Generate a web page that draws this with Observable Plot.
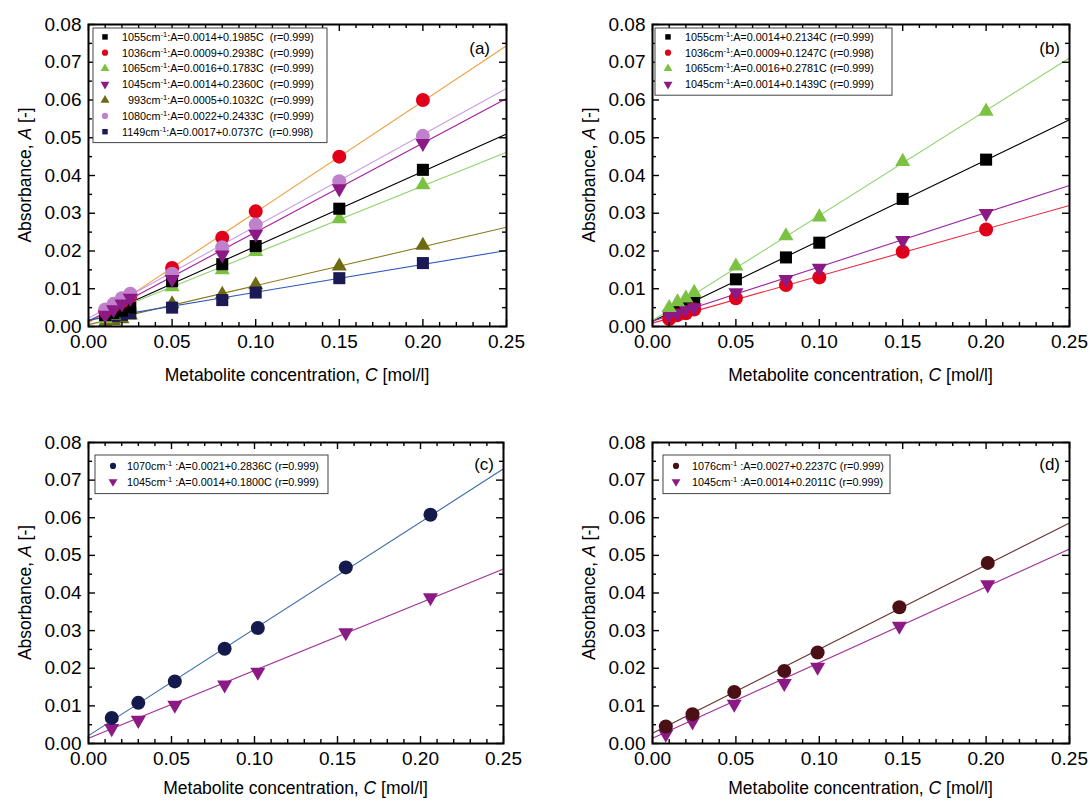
<!DOCTYPE html>
<html><head><meta charset="utf-8">
<script src="https://cdn.jsdelivr.net/npm/d3@7"></script>
<script src="https://cdn.jsdelivr.net/npm/@observablehq/plot@0.6"></script>
<style>
body{margin:0;background:#fff;font-family:"Liberation Sans",Arial,sans-serif;}
#wrap{position:relative;width:1090px;height:803px;overflow:hidden;}
.panel{position:absolute;}
</style></head><body><div id="wrap"></div>
<script>
// ---------------- DATA ----------------
const concAB = [0.01, 0.015, 0.02, 0.025, 0.05, 0.08, 0.10, 0.15, 0.20];
const concC  = [0.014, 0.030, 0.052, 0.082, 0.102, 0.155, 0.206];
const concD  = [0.008, 0.024, 0.049, 0.079, 0.099, 0.148, 0.201];

// panel (a)
const a_wn   = ["1055", "1036", "1065", "1045", "993", "1080", "1149"];
const a_b    = [0.0014, 0.0009, 0.0016, 0.0014, 0.0005, 0.0022, 0.0017];
const a_m    = [0.1985, 0.2938, 0.1783, 0.2360, 0.1032, 0.2433, 0.0737];
const a_r    = ["0.999", "0.999", "0.999", "0.999", "0.999", "0.999", "0.998"];
const a_1055 = [0.0030, 0.0036, 0.0042, 0.0050, 0.0120, 0.0165, 0.0213, 0.0312, 0.0415];
const a_1036 = [0.0040, 0.0055, 0.0066, 0.0080, 0.0155, 0.0235, 0.0305, 0.0450, 0.0600];
const a_1065 = [0.0020, 0.0030, 0.0045, 0.0052, 0.0105, 0.0150, 0.0198, 0.0285, 0.0375];
const a_1045 = [0.0030, 0.0045, 0.0060, 0.0075, 0.0125, 0.0190, 0.0245, 0.0365, 0.0485];
const a_993  = [0.0010, 0.0015, 0.0020, 0.0030, 0.0060, 0.0085, 0.0110, 0.0160, 0.0215];
const a_1080 = [0.0045, 0.0060, 0.0075, 0.0087, 0.0140, 0.0210, 0.0270, 0.0385, 0.0505];
const a_1149 = [0.0025, 0.0028, 0.0031, 0.0035, 0.0050, 0.0070, 0.0090, 0.0128, 0.0168];

// panel (b)
const b_wn   = ["1055", "1036", "1065", "1045"];
const b_b    = [0.0014, 0.0009, 0.0016, 0.0014];
const b_m    = [0.2134, 0.1247, 0.2781, 0.1439];
const b_r    = ["0.999", "0.998", "0.999", "0.999"];
const b_1055 = [0.0030, 0.0040, 0.0050, 0.0065, 0.0125, 0.0183, 0.0222, 0.0338, 0.0442];
const b_1036 = [0.0020, 0.0030, 0.0035, 0.0045, 0.0075, 0.0110, 0.0130, 0.0198, 0.0257];
const b_1065 = [0.0050, 0.0065, 0.0075, 0.0090, 0.0160, 0.0240, 0.0290, 0.0437, 0.0570];
const b_1045 = [0.0030, 0.0035, 0.0045, 0.0050, 0.0090, 0.0125, 0.0155, 0.0228, 0.0300];

// panel (c)
const c_wn   = ["1070", "1045"];
const c_b    = [0.0021, 0.0014];
const c_m    = [0.2836, 0.1800];
const c_r    = ["0.999", "0.999"];
const c_1070 = [0.0068, 0.0108, 0.0165, 0.0252, 0.0307, 0.0468, 0.0608];
const c_1045 = [0.0040, 0.0062, 0.0102, 0.0156, 0.0190, 0.0295, 0.0388];

// panel (d)
const d_wn   = ["1076", "1045"];
const d_b    = [0.0027, 0.0014];
const d_m    = [0.2237, 0.2011];
const d_r    = ["0.999", "0.999"];
const d_1076 = [0.0045, 0.0078, 0.0137, 0.0193, 0.0242, 0.0362, 0.0480];
const d_1045 = [0.0025, 0.0058, 0.0105, 0.0160, 0.0203, 0.0312, 0.0422];

const xTicks = [0.00, 0.05, 0.10, 0.15, 0.20, 0.25];
const yTicks = [0.00, 0.01, 0.02, 0.03, 0.04, 0.05, 0.06, 0.07, 0.08];
const xTitle = "Metabolite concentration, ";
const yTitle = "Absorbance, ";

// ---------------- STYLE ----------------
const M = {
  blackSq:  {symbol: "square",   fill: "#000000", r: 6.8, rot: 0},
  redCi:    {symbol: "circle",   fill: "#e1001a", r: 7.0, rot: 0},
  greenTr:  {symbol: "triangle", fill: "#7cc242", r: 5.6, rot: 0},
  magDown:  {symbol: "triangle", fill: "#8b1a84", r: 5.6, rot: 180},
  oliveTr:  {symbol: "triangle", fill: "#6f6a12", r: 5.6, rot: 0},
  orchidCi: {symbol: "circle",   fill: "#bf80cc", r: 7.0, rot: 0},
  navySq:   {symbol: "square",   fill: "#1b1a55", r: 6.8, rot: 0},
  navyCi:   {symbol: "circle",   fill: "#141a4c", r: 7.0, rot: 0},
  maroonCi: {symbol: "circle",   fill: "#4a1015", r: 7.0, rot: 0}
};

const panels = [
  {tag: "(a)", left: 0, top: 0, width: 545, height: 400, mL: 88, mR: 39, mT: 24, mB: 74,
   conc: concAB, wn: a_wn, b: a_b, m: a_m, r: a_r, gap: "  ", colon: ":",
   values: [a_1055, a_1036, a_1065, a_1045, a_993, a_1080, a_1149],
   marker: [M.blackSq, M.redCi, M.greenTr, M.magDown, M.oliveTr, M.orchidCi, M.navySq],
   line: ["#000000", "#f0a040", "#8fd470", "#a41aa0", "#8c7a1e", "#c89ce6", "#2a55b8"],
   drawOrder: [4, 6, 2, 0, 1, 5, 3],
   leg: {x: 93, y: 28, w: 234, rowH: 15.8, pad: 1, extra: 4, sx: 12, tx: 29, fs: 10.8},
   tagX: 490, tagY: 54, xtY: 381, ytX: 31},
  {tag: "(b)", left: 545, top: 0, width: 545, height: 400, mL: 107, mR: 21, mT: 24, mB: 74,
   conc: concAB, wn: b_wn, b: b_b, m: b_m, r: b_r, gap: " ", colon: ":",
   values: [b_1055, b_1036, b_1065, b_1045],
   marker: [M.blackSq, M.redCi, M.greenTr, M.magDown],
   line: ["#000000", "#e82a40", "#8fd470", "#9a2aa8"],
   drawOrder: [0, 1, 3, 2],
   leg: {x: 110, y: 28, w: 237, rowH: 15.8, pad: 1, extra: 4, sx: 13, tx: 30, fs: 10.8},
   tagX: 515, tagY: 54, xtY: 381, ytX: 50},
  {tag: "(c)", left: 0, top: 400, width: 545, height: 403, mL: 88, mR: 42, mT: 42, mB: 60,
   conc: concC, wn: c_wn, b: c_b, m: c_m, r: c_r, gap: " ", colon: " :",
   values: [c_1070, c_1045],
   marker: [M.navyCi, M.magDown],
   line: ["#3a6aa8", "#a0309a"],
   drawOrder: [1, 0],
   leg: {x: 95, y: 55, w: 233, rowH: 15.8, pad: 3, extra: 7, sx: 18, tx: 32, fs: 10.8},
   tagX: 494, tagY: 70, xtY: 394, ytX: 31},
  {tag: "(d)", left: 545, top: 400, width: 545, height: 403, mL: 107, mR: 21, mT: 42, mB: 60,
   conc: concD, wn: d_wn, b: d_b, m: d_m, r: d_r, gap: " ", colon: " :",
   values: [d_1076, d_1045],
   marker: [M.maroonCi, M.magDown],
   line: ["#6a3030", "#a0309a"],
   drawOrder: [1, 0],
   leg: {x: 118, y: 55, w: 227, rowH: 15.8, pad: 3, extra: 7, sx: 13, tx: 29, fs: 10.8},
   tagX: 515, tagY: 70, xtY: 394, ytX: 50}
];

const fmt = d3.format(".2f");
const wrap = document.getElementById("wrap");

for (const P of panels) {
  const plotW = P.width - P.mL - P.mR;
  const plotH = P.height - P.mT - P.mB;
  const pxX = 0.25 / plotW, pxY = 0.08 / plotH;
  const xMinor = d3.range(0, 26).map(i => i / 100);
  const yMinor = d3.range(0, 17).map(i => i * 0.005);
  const isMajorX = d => xTicks.some(t => Math.abs(t - d) < 1e-9);
  const isMajorY = d => Math.round(d * 1000) % 10 === 0;
  const marks = [];
  // fitted lines
  P.b.forEach((b, i) => {
    const seg = [{C: 0, A: b}, {C: 0.25, A: b + P.m[i] * 0.25}];
    marks.push(Plot.line(seg, {x: "C", y: "A", stroke: P.line[i], strokeWidth: 1.1}));
  });
  // points
  for (const i of P.drawOrder) {
    const mk = P.marker[i];
    const rows = P.values[i].map((v, j) => ({C: P.conc[j], A: v}));
    marks.push(Plot.dot(rows, {x: "C", y: "A", symbol: mk.symbol, r: mk.r, fill: mk.fill, rotate: mk.rot, stroke: "none"}));
  }
  // inward ticks on all four sides
  const tk = {stroke: "black", strokeWidth: 1.4};
  marks.push(
    Plot.ruleX(xMinor, {...tk, x: d => d, y1: 0, y2: d => (isMajorX(d) ? 7 : 4) * pxY}),
    Plot.ruleX(xMinor, {...tk, x: d => d, y1: 0.08, y2: d => 0.08 - (isMajorX(d) ? 7 : 4) * pxY}),
    Plot.ruleY(yMinor, {...tk, y: d => d, x1: 0, x2: d => (isMajorY(d) ? 7 : 4) * pxX}),
    Plot.ruleY(yMinor, {...tk, y: d => d, x1: 0.25, x2: d => 0.25 - (isMajorY(d) ? 7 : 4) * pxX}),
    Plot.frame({stroke: "black", strokeWidth: 2}),
    Plot.axisX(xTicks, {tickSize: 0, tickPadding: 8, tickFormat: fmt, fontSize: 19, label: null}),
    Plot.axisY(yTicks, {tickSize: 0, tickPadding: 7, tickFormat: fmt, fontSize: 19, label: null})
  );
  const svg = Plot.plot({
    width: P.width, height: P.height,
    marginLeft: P.mL, marginRight: P.mR, marginTop: P.mT, marginBottom: P.mB,
    x: {domain: [0, 0.25]},
    y: {domain: [0, 0.08]},
    style: {fontFamily: "'Liberation Sans', Arial, sans-serif", color: "black", background: "transparent", overflow: "visible"},
    marks
  });
  const div = document.createElement("div");
  div.className = "panel";
  div.style.left = P.left + "px";
  div.style.top = P.top + "px";
  div.appendChild(svg);
  wrap.appendChild(div);

  const s = d3.select(svg);
  const ff = "'Liberation Sans', Arial, sans-serif";
  // x title
  const xt = s.append("text").attr("x", P.mL + plotW / 2).attr("y", P.xtY)
    .attr("text-anchor", "middle").attr("font-family", ff).attr("font-size", 17.5).attr("fill", "black");
  xt.append("tspan").text(xTitle);
  xt.append("tspan").attr("font-style", "italic").text("C");
  xt.append("tspan").text(" [mol/l]");
  // y title
  const yt = s.append("text").attr("transform", `translate(${P.ytX},${P.mT + plotH / 2}) rotate(-90)`)
    .attr("text-anchor", "middle").attr("font-family", ff).attr("font-size", 17.5).attr("fill", "black");
  yt.append("tspan").text(yTitle);
  yt.append("tspan").attr("font-style", "italic").text("A");
  yt.append("tspan").text(" [-]");
  // panel tag
  s.append("text").attr("x", P.tagX).attr("y", P.tagY).attr("text-anchor", "end")
    .attr("font-family", ff).attr("font-size", 17).attr("fill", "black").text(P.tag);
  // legend
  const L = P.leg;
  const n = P.wn.length;
  const g = s.append("g").attr("font-family", ff).attr("font-size", L.fs).attr("fill", "black").attr("text-anchor", "start");
  g.append("rect").attr("x", L.x).attr("y", L.y).attr("width", L.w).attr("height", n * L.rowH + L.extra)
    .attr("fill", "white").attr("stroke", "#444").attr("stroke-width", 1);
  P.wn.forEach((wn, i) => {
    const cy = L.y + L.pad + L.rowH * (i + 0.5);
    const mk = P.marker[i];
    const type = mk.symbol === "square" ? d3.symbolSquare : mk.symbol === "circle" ? d3.symbolCircle : d3.symbolTriangle;
    g.append("path").attr("d", d3.symbol(type, mk.symbol === "triangle" ? 34 : 30)())
      .attr("transform", `translate(${L.x + L.sx},${cy}) rotate(${mk.rot})`).attr("fill", mk.fill);
    const t = g.append("text").attr("x", L.x + L.tx).attr("y", cy + L.fs * 0.36)
      .attr("text-anchor", "start").style("white-space", "pre");
    t.append("tspan").text((wn.length === 3 ? "  " : "") + wn + "cm");
    t.append("tspan").attr("dy", -4).attr("font-size", L.fs * 0.7).text("-1");
    t.append("tspan").attr("dy", 4).text(`${P.colon}A=${P.b[i].toFixed(4)}+${P.m[i].toFixed(4)}C${P.gap}(r=${P.r[i]})`);
  });
}
</script>
</body></html>
